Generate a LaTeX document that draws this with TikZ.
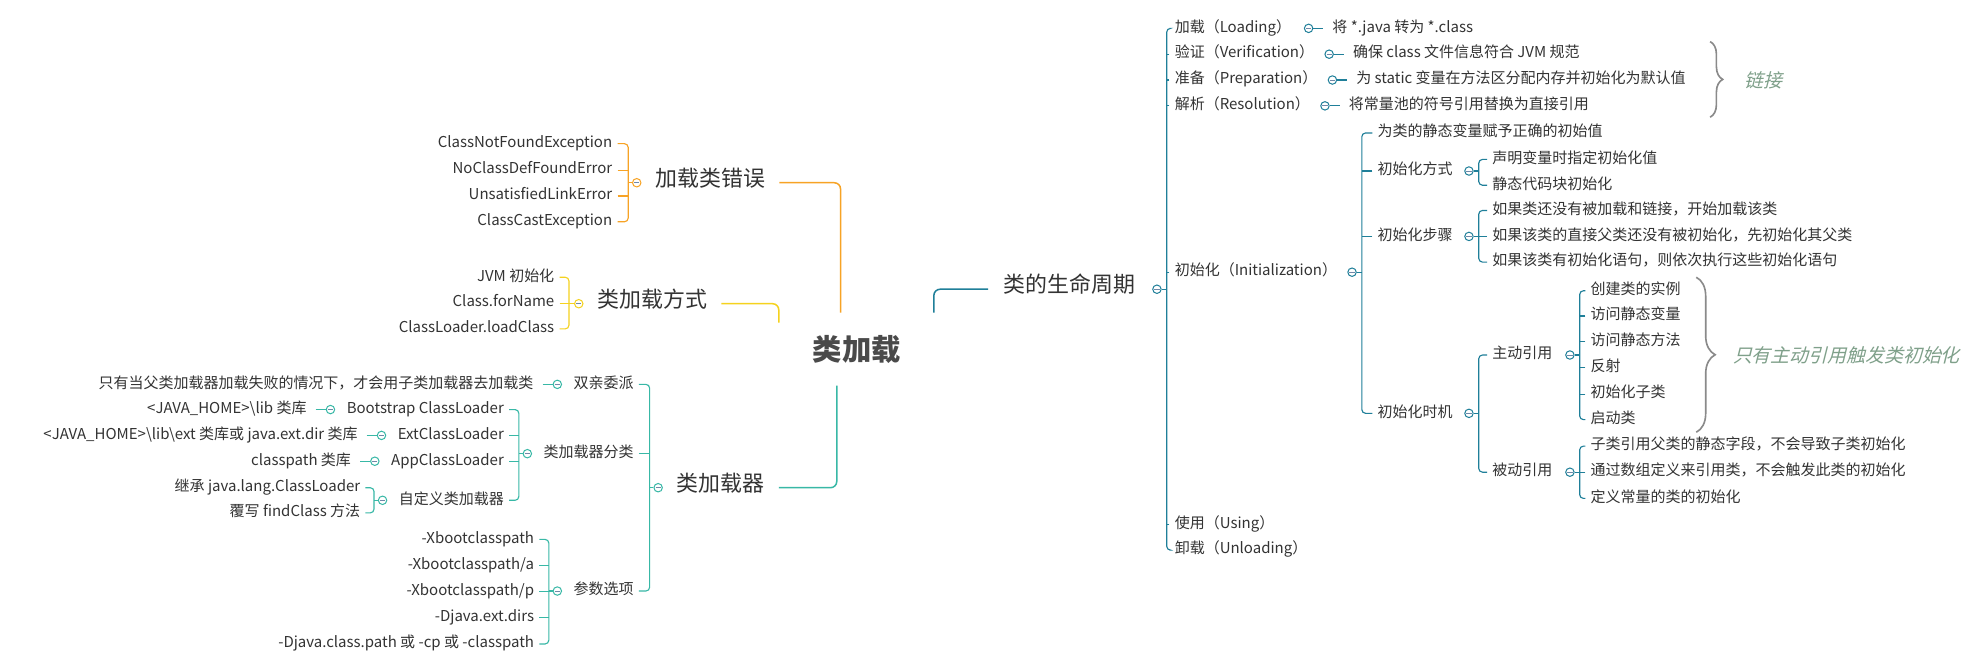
\documentclass[tikz,border=0pt]{standalone}
\usepackage{fontspec}
\setmainfont{Noto Sans CJK SC}
\newfontfamily\notefont{Noto Sans CJK SC}[FakeSlant=0.25]
\usepackage{tikz}
\usetikzlibrary{calc, positioning, decorations.pathreplacing}

\definecolor{textc}{HTML}{333333}
\definecolor{rootc}{HTML}{4A4A4A}
\definecolor{orangec}{HTML}{F7A325}
\definecolor{yellowc}{HTML}{F5D21E}
\definecolor{tealc}{HTML}{38B8A6}
\definecolor{bluec}{HTML}{1F7F99}
\definecolor{minusc}{HTML}{7088A8}
\definecolor{bracec}{HTML}{8A8A8A}
\definecolor{notec}{HTML}{7FA08A}

\begin{document}
\begin{tikzpicture}[x=1pt, y=-1pt]
    \tikzstyle{root} = [font=\fontsize{23.3}{26}\selectfont\bfseries, text=rootc, minimum height=57.5pt, inner xsep=0pt]
    \tikzstyle{branch} = [font=\fontsize{17.4}{20}\selectfont, text=textc, inner xsep=11pt, inner ysep=1pt, text height=.8em, text depth=.2em]
    \tikzstyle{topic} = [font=\fontsize{11.9}{14}\selectfont, text=textc, inner xsep=4pt, inner ysep=1pt, text height=.8em, text depth=.2em]
    \tikzstyle{single} = [topic, inner xsep=7pt]
    \tikzstyle{note} = [font=\notefont\fontsize{15}{18}\selectfont, text=notec, inner sep=0pt]
    \tikzstyle{marker} = [circle, fill=white, line width=.8pt, inner sep=0pt, minimum size=6.7pt,
        path picture={\draw[minusc, line width=.7pt] ($(path picture bounding box.west) + (1.3, 0)$) -- ($(path picture bounding box.east) + (-1.3, 0)$);}]
    \tikzstyle{mainline} = [line width=1.2pt, rounded corners=5pt]
    \tikzstyle{thinline} = [line width=.9pt, rounded corners=3pt]
    \tikzstyle{brace} = [decorate, decoration={brace, amplitude=#1}, bracec, line width=1.3pt]

    \useasboundingbox (0, 0) rectangle (1568, 532.4);
    \fill[white] (0, 0) rectangle (1568, 532.4);

    % Root ---------------------------------------------
    \node (root) at (680, 277) [root] {类加载};

    % Errors -------------------------------------------
    \node (err) at (509, 145) [branch, anchor=west] {加载类错误};
    \node (errm) [marker, draw=orangec, left=0pt of err] {};
    \coordinate (errb) at ($(errm.west) + (-3, 0)$);
    \node (err1) at (490, 114) [topic, anchor=east] {ClassNotFoundException};
    \node (err2) at (490, 135) [topic, anchor=east] {NoClassDefFoundError};
    \node (err3) at (490, 155.5) [topic, anchor=east] {UnsatisfiedLinkError};
    \node (err4) at (490, 176) [topic, anchor=east] {ClassCastException};

    \draw [orangec, mainline] (err.east) -| ($(root.north) + (-13, 0)$);
    \draw [orangec, thinline] (errm.west) -- (errb);
    \draw [orangec, thinline] (err1.east) -| (errb) |- (err4.east);
    \draw [orangec, thinline] (err2.east) -- (err2.east -| errb);
    \draw [orangec, thinline] (err3.east) -- (err3.east -| errb);

    % Ways ---------------------------------------------
    \node (way) at (463, 241) [branch, anchor=west] {类加载方式};
    \node (waym) [marker, draw=yellowc, left=0pt of way] {};
    \coordinate (wayb) at ($(waym.west) + (-4, 0)$);
    \node (way1) at (444, 220) [topic, anchor=east] {JVM 初始化};
    \node (way2) at (444, 240.6) [topic, anchor=east] {Class.forName};
    \node (way3) at (444, 261) [topic, anchor=east] {ClassLoader.loadClass};

    \draw [yellowc, mainline] (way.east) -| ($(root.north) + (-62, 8)$);
    \draw [yellowc, thinline] (waym.west) -- (wayb);
    \draw [yellowc, thinline] (way1.east) -| (wayb) |- (way3.east);
    \draw [yellowc, thinline] (way2.east) -- (way2.east -| wayb);

    % Loaders ------------------------------------------
    \node (ldr) at (526, 387) [branch, anchor=west] {类加载器};
    \node (ldrm) [marker, draw=tealc, left=0pt of ldr] {};
    \coordinate (ldrb) at ($(ldrm.west) + (-3, 0)$);

    \node (dlg) at (507, 305) [topic, anchor=east] {双亲委派};
    \node (dlgm) [marker, draw=tealc, left=5pt of dlg] {};
    \node (dlg1) [single, left=8pt of dlgm] {只有当父类加载器加载失败的情况下，才会用子类加载器去加载类};

    \node (kind) at (507, 360) [topic, anchor=east] {类加载器分类};
    \node (kindm) [marker, draw=tealc, left=5pt of kind] {};
    \coordinate (kindb) at ($(kindm.west) + (-3, 0)$);
    \node (boot) at (404, 325) [topic, anchor=east] {Bootstrap ClassLoader};
    \node (bootm) [marker, draw=tealc, left=5pt of boot] {};
    \node (boot1) [single, left=8pt of bootm] {<JAVA\_HOME>\textbackslash lib 类库};
    \node (ext) at (404, 345.5) [topic, anchor=east] {ExtClassLoader};
    \node (extm) [marker, draw=tealc, left=5pt of ext] {};
    \node (ext1) [single, left=8pt of extm] {<JAVA\_HOME>\textbackslash lib\textbackslash ext 类库或 java.ext.dir 类库};
    \node (app) at (404, 366) [topic, anchor=east] {AppClassLoader};
    \node (appm) [marker, draw=tealc, left=5pt of app] {};
    \node (app1) [single, left=8pt of appm] {classpath 类库};
    \node (own) at (404, 397) [topic, anchor=east] {自定义类加载器};
    \node (ownm) [marker, draw=tealc, left=5pt of own] {};
    \coordinate (ownb) at ($(ownm.west) + (-3, 0)$);
    \node (own1) at (290, 387) [topic, anchor=east] {继承 java.lang.ClassLoader};
    \node (own2) at (290, 407) [topic, anchor=east] {覆写 findClass 方法};

    \node (opt) at (507, 469) [topic, anchor=east] {参数选项};
    \node (optm) [marker, draw=tealc, left=5pt of opt] {};
    \coordinate (optb) at ($(optm.west) + (-3, 0)$);
    \node (opt1) at (428, 428) [topic, anchor=east] {-Xbootclasspath};
    \node (opt2) at (428, 449) [topic, anchor=east] {-Xbootclasspath/a};
    \node (opt3) at (428, 469.6) [topic, anchor=east] {-Xbootclasspath/p};
    \node (opt4) at (428, 490) [topic, anchor=east] {-Djava.ext.dirs};
    \node (opt5) at (428, 511) [topic, anchor=east] {-Djava.class.path 或 -cp 或 -classpath};

    \draw [tealc, mainline] (ldr.east) -| ($(root.south) + (-16, 0)$);
    \draw [tealc, thinline] (ldrm.west) -- (ldrb);
    \draw [tealc, thinline] (dlg.east) -| (ldrb) |- (opt.east);
    \draw [tealc, thinline] (kind.east) -- (kind.east -| ldrb);
    \draw [tealc, thinline] (dlg1.east) -- (dlgm.west);
    \draw [tealc, thinline] (kindm.west) -- (kindb);
    \draw [tealc, thinline] (boot.east) -| (kindb) |- (own.east);
    \draw [tealc, thinline] (ext.east) -- (ext.east -| kindb);
    \draw [tealc, thinline] (app.east) -- (app.east -| kindb);
    \draw [tealc, thinline] (boot1.east) -- (bootm.west);
    \draw [tealc, thinline] (ext1.east) -- (extm.west);
    \draw [tealc, thinline] (app1.east) -- (appm.west);
    \draw [tealc, thinline] (ownm.west) -- (ownb);
    \draw [tealc, thinline] (own1.east) -| (ownb) |- (own2.east);
    \draw [tealc, thinline] (optm.west) -- (optb);
    \draw [tealc, thinline] (opt1.east) -| (optb) |- (opt5.east);
    \draw [tealc, thinline] (opt2.east) -- (opt2.east -| optb);
    \draw [tealc, thinline] (opt3.east) -- (opt3.east -| optb);
    \draw [tealc, thinline] (opt4.east) -- (opt4.east -| optb);

    % Life cycle ---------------------------------------
    \node (life) at (784, 229.5) [branch, anchor=west, inner xsep=12pt] {类的生命周期};
    \node (lifem) [marker, draw=bluec, right=1.5pt of life] {};
    \coordinate (lifeb) at ($(lifem.east) + (4, 0)$);
    \draw [bluec, mainline] ($(root.north) + (61, 0)$) |- (life.west);

    \node (load) at (928, 22.5) [topic, anchor=west] {加载（Loading）};
    \node (verify) at (928, 43) [topic, anchor=west] {验证（Verification）};
    \node (prep) at (928, 63.5) [topic, anchor=west] {准备（Preparation）};
    \node (resol) at (928, 84) [topic, anchor=west] {解析（Resolution）};
    \node (init) at (928, 216) [topic, anchor=west] {初始化（Initialization）};
    \node (use) at (928, 416) [topic, anchor=west] {使用（Using）};
    \node (unload) at (928, 436.5) [topic, anchor=west] {卸载（Unloading）};

    \draw [bluec, thinline] (lifem.east) -- (lifeb);
    \draw [bluec, thinline] (load.west) -| (lifeb) |- (unload.west);
    \draw [bluec, thinline] (verify.west) -- (verify.west -| lifeb);
    \draw [bluec, thinline] (prep.west) -- (prep.west -| lifeb);
    \draw [bluec, thinline] (resol.west) -- (resol.west -| lifeb);
    \draw [bluec, thinline] (init.west) -- (init.west -| lifeb);
    \draw [bluec, thinline] (use.west) -- (use.west -| lifeb);

    % Linking steps
    \node (loadm) [marker, draw=bluec, right=6pt of load] {};
    \node (load1) [single, right=8pt of loadm] {将 *.java 转为 *.class};
    \node (verifym) [marker, draw=bluec, right=4pt of verify] {};
    \node (verify1) [single, right=8pt of verifym] {确保 class 文件信息符合 JVM 规范};
    \node (prepm) [marker, draw=bluec, right=4pt of prep] {};
    \node (prep1) [single, right=8pt of prepm] {为 static 变量在方法区分配内存并初始化为默认值};
    \node (resolm) [marker, draw=bluec, right=4pt of resol] {};
    \node (resol1) [single, right=8pt of resolm] {将常量池的符号引用替换为直接引用};
    \draw [bluec, thinline] (loadm.east) -- (load1.west);
    \draw [bluec, thinline] (verifym.east) -- (verify1.west);
    \draw [bluec, thinline] (prepm.east) -- (prep1.west);
    \draw [bluec, thinline] (resolm.east) -- (resol1.west);

    \coordinate (linktop) at (1357, 33);
    \coordinate (linkbot) at (1357, 93);
    \draw [brace=10pt] (linktop) -- (linkbot);
    \node (link) at (1384, 63.5) [note, anchor=west] {链接};

    % Initialization
    \node (initm) [marker, draw=bluec, right=4pt of init] {};
    \coordinate (initb) at ($(initm.east) + (4, 0)$);
    \node (init1) at (1089, 105.5) [topic, anchor=west] {为类的静态变量赋予正确的初始值};
    \node (how) at (1089, 135.7) [topic, anchor=west] {初始化方式};
    \node (steps) at (1089, 187.6) [topic, anchor=west] {初始化步骤};
    \node (when) at (1089, 328) [topic, anchor=west] {初始化时机};
    \draw [bluec, thinline] (initm.east) -- (initb);
    \draw [bluec, thinline] (init1.west) -| (initb) |- (when.west);
    \draw [bluec, thinline] (how.west) -- (how.west -| initb);
    \draw [bluec, thinline] (steps.west) -- (steps.west -| initb);

    \node (howm) [marker, draw=bluec, right=5pt of how] {};
    \coordinate (howb) at ($(howm.east) + (4, 0)$);
    \node (how1) at (1180, 126.5) [topic, anchor=west] {声明变量时指定初始化值};
    \node (how2) at (1180, 147) [topic, anchor=west] {静态代码块初始化};
    \draw [bluec, thinline] (howm.east) -- (howb);
    \draw [bluec, thinline] (how1.west) -| (howb) |- (how2.west);

    \node (stepsm) [marker, draw=bluec, right=5pt of steps] {};
    \coordinate (stepsb) at ($(stepsm.east) + (4, 0)$);
    \node (steps1) at (1180, 167) [topic, anchor=west] {如果类还没有被加载和链接，开始加载该类};
    \node (steps2) at (1180, 187.6) [topic, anchor=west] {如果该类的直接父类还没有被初始化，先初始化其父类};
    \node (steps3) at (1180, 208) [topic, anchor=west] {如果该类有初始化语句，则依次执行这些初始化语句};
    \draw [bluec, thinline] (steps1.west) -| (stepsb) |- (steps3.west);
    \draw [bluec, thinline] (steps2.west) -- (stepsm.east);

    \node (whenm) [marker, draw=bluec, right=5pt of when] {};
    \coordinate (whenb) at ($(whenm.east) + (4, 0)$);
    \node (act) at (1180, 281.7) [topic, anchor=west] {主动引用};
    \node (pas) at (1180, 374.7) [topic, anchor=west] {被动引用};
    \draw [bluec, thinline] (whenm.east) -- (whenb);
    \draw [bluec, thinline] (act.west) -| (whenb) |- (pas.west);

    \node (actm) [marker, draw=bluec, right=6pt of act] {};
    \coordinate (actb) at ($(actm.east) + (4, 0)$);
    \node (act1) at (1258, 230.7) [topic, anchor=west] {创建类的实例};
    \node (act2) at (1258, 250.8) [topic, anchor=west] {访问静态变量};
    \node (act3) at (1258, 271) [topic, anchor=west] {访问静态方法};
    \node (act4) at (1258, 291.8) [topic, anchor=west] {反射};
    \node (act5) at (1258, 312.7) [topic, anchor=west] {初始化子类};
    \node (act6) at (1258, 333) [topic, anchor=west] {启动类};
    \draw [bluec, thinline] (actm.east) -- (actb);
    \draw [bluec, thinline] (act1.west) -| (actb) |- (act6.west);
    \draw [bluec, thinline] (act2.west) -- (act2.west -| actb);
    \draw [bluec, thinline] (act3.west) -- (act3.west -| actb);
    \draw [bluec, thinline] (act4.west) -- (act4.west -| actb);
    \draw [bluec, thinline] (act5.west) -- (act5.west -| actb);

    \coordinate (acttop) at (1346, 220);
    \coordinate (actbot) at (1346, 343);
    \draw [brace=15pt] (acttop) -- (actbot);
    \node (actnote) at (1375, 281.7) [note, anchor=west] {只有主动引用触发类初始化};

    \node (pasm) [marker, draw=bluec, right=6pt of pas] {};
    \coordinate (pasb) at ($(pasm.east) + (4, 0)$);
    \node (pas1) at (1258, 354) [topic, anchor=west] {子类引用父类的静态字段，不会导致子类初始化};
    \node (pas2) at (1258, 374.7) [topic, anchor=west] {通过数组定义来引用类，不会触发此类的初始化};
    \node (pas3) at (1258, 395.5) [topic, anchor=west] {定义常量的类的初始化};
    \draw [bluec, thinline] (pas1.west) -| (pasb) |- (pas3.west);
    \draw [bluec, thinline] (pas2.west) -- (pasm.east);
\end{tikzpicture}
\end{document}
